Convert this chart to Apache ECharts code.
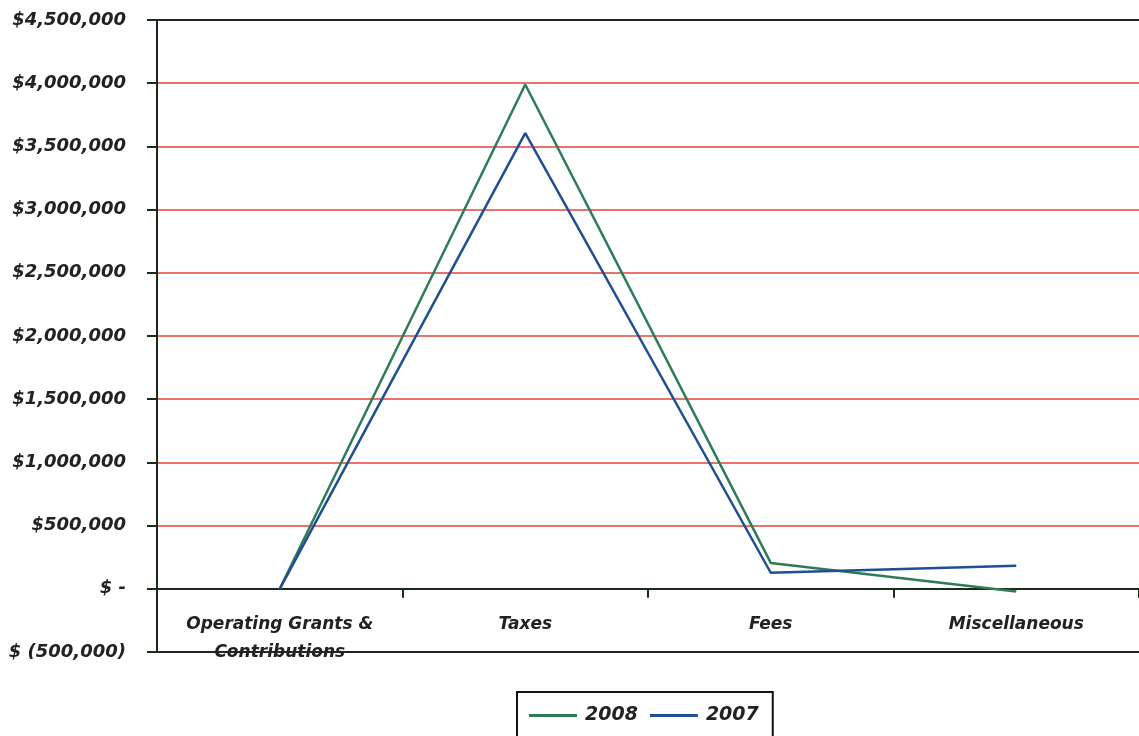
<!DOCTYPE html>
<html>
<head>
<meta charset="utf-8">
<script src="https://cdn.jsdelivr.net/npm/echarts@6/dist/echarts.min.js"></script>
<style>
html,body{margin:0;padding:0;background:#fff;}
#chart{width:1139px;height:736px;}
</style>
</head>
<body>
<div id="chart"></div>
<script>
var categories = ['Operating Grants & Contributions', 'Taxes', 'Fees', 'Miscellaneous'];
var series2008 = [0, 3990000, 205000, -22000];
var series2007 = [0, 3605000, 127000, 182000];
var seriesNames = ['2008', '2007'];

function fmtMoney(v) {
  if (v === 0) return '$ -';
  var s = Math.abs(v).toString().replace(/\B(?=(\d{3})+(?!\d))/g, ',');
  return v < 0 ? '$ (' + s + ')' : '$' + s;
}

var font = '"DejaVu Sans", Verdana, sans-serif';
var dark = '#1c2a1c';
var red = '#e8736c';
var chart = echarts.init(document.getElementById('chart'));
chart.setOption({
  animation: false,
  backgroundColor: '#ffffff',
  grid: {
    left: 157, top: 20, width: 984, height: 632,
    show: false
  },
  legend: {
    data: seriesNames,
    left: 517, top: 692,
    icon: 'rect', itemWidth: 48, itemHeight: 3, itemGap: 12,
    borderColor: '#111', borderWidth: 2, borderRadius: 0,
    padding: [14, 14, 20, 12],
    textStyle: { fontFamily: font, fontSize: 19, fontWeight: 'bold', fontStyle: 'italic', color: '#222', padding: [0, 0, 0, 3] }
  },
  xAxis: {
    type: 'category',
    data: categories,
    boundaryGap: true,
    axisLine: { onZero: true, lineStyle: { color: dark, width: 2 } },
    axisTick: { show: true, alignWithLabel: false, length: 9, lineStyle: { color: dark, width: 2 } },
    axisLabel: {
      margin: -41, interval: 0,
      fontFamily: font, fontSize: 17, fontWeight: 'bold', fontStyle: 'italic', color: '#222',
      lineHeight: 28,
      formatter: function (v) { return v.replace(' & ', ' &\n'); }
    },
    splitLine: { show: false }
  },
  yAxis: {
    type: 'value',
    min: -500000, max: 4500000, interval: 500000,
    axisLine: { show: true, lineStyle: { color: dark, width: 2 } },
    axisTick: { show: true, length: 10, lineStyle: { color: dark, width: 2 } },
    axisLabel: {
      margin: 31,
      fontFamily: font, fontSize: 18, fontWeight: 'bold', fontStyle: 'italic', color: '#222',
      formatter: fmtMoney
    },
    splitLine: { show: true, lineStyle: { color: [dark, dark, red, red, red, red, red, red, red, red, dark], width: 2 } }
  },
  series: [
    { name: seriesNames[0], type: 'line', data: series2008, showSymbol: false, symbol: 'none',
      lineStyle: { color: '#2e7b57', width: 2.5 }, itemStyle: { color: '#2e7b57' }, z: 3 },
    { name: seriesNames[1], type: 'line', data: series2007, showSymbol: false, symbol: 'none',
      lineStyle: { color: '#1f4f91', width: 2.5 }, itemStyle: { color: '#1f4f91' }, z: 4 }
  ]
});
</script>
</body>
</html>
